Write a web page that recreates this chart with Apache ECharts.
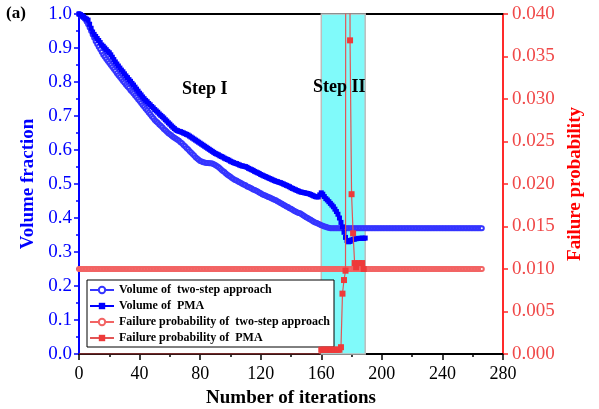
<!DOCTYPE html>
<html><head><meta charset="utf-8">
<script src="https://cdn.jsdelivr.net/npm/echarts@6/dist/echarts.min.js"></script>
<style>html,body{margin:0;padding:0;background:#fff}#c{width:599px;height:409px}</style>
</head><body><div id="c"></div>
<script>
// Volume fraction of two-step approach, index = iteration number (0..266)
const volTwoStep = [
1.000,0.997,0.993,0.990,0.985,0.978,0.970,0.960,0.950,0.940,
0.930,0.920,0.912,0.904,0.896,0.888,0.880,0.874,0.868,0.862,
0.856,0.850,0.844,0.838,0.832,0.826,0.820,0.815,0.809,0.803,
0.798,0.792,0.787,0.782,0.776,0.771,0.766,0.760,0.755,0.749,
0.744,0.738,0.732,0.727,0.721,0.716,0.710,0.705,0.699,0.694,
0.688,0.684,0.680,0.675,0.671,0.667,0.662,0.658,0.654,0.649,
0.646,0.643,0.639,0.636,0.633,0.630,0.627,0.623,0.620,0.615,
0.611,0.606,0.602,0.597,0.593,0.588,0.584,0.579,0.575,0.571,
0.568,0.566,0.564,0.563,0.562,0.562,0.561,0.561,0.560,0.558,
0.556,0.553,0.550,0.546,0.542,0.538,0.535,0.531,0.527,0.524,
0.521,0.518,0.515,0.512,0.510,0.507,0.505,0.503,0.500,0.498,
0.496,0.493,0.491,0.489,0.487,0.484,0.482,0.480,0.478,0.475,
0.473,0.470,0.468,0.466,0.464,0.462,0.460,0.458,0.456,0.454,
0.452,0.449,0.447,0.444,0.442,0.439,0.437,0.434,0.432,0.429,
0.427,0.424,0.421,0.419,0.417,0.415,0.414,0.411,0.408,0.405,
0.402,0.400,0.397,0.395,0.392,0.389,0.387,0.385,0.383,0.381,
0.379,0.377,0.375,0.374,0.372,0.371,0.370,0.370,0.370,0.370,
0.370,0.370,0.370,0.370,0.370,0.370,0.370,0.370,0.370,0.370,
0.370,0.370,0.370,0.370,0.370,0.370,0.370,0.370,0.370,0.370,
0.370,0.370,0.370,0.370,0.370,0.370,0.370,0.370,0.370,0.370,
0.370,0.370,0.370,0.370,0.370,0.370,0.370,0.370,0.370,0.370,
0.370,0.370,0.370,0.370,0.370,0.370,0.370,0.370,0.370,0.370,
0.370,0.370,0.370,0.370,0.370,0.370,0.370,0.370,0.370,0.370,
0.370,0.370,0.370,0.370,0.370,0.370,0.370,0.370,0.370,0.370,
0.370,0.370,0.370,0.370,0.370,0.370,0.370,0.370,0.370,0.370,
0.370,0.370,0.370,0.370,0.370,0.370,0.370,0.370,0.370,0.370,
0.370,0.370,0.370,0.370,0.370,0.370,0.370
];
// Volume fraction of PMA, index = iteration number (0..189)
const volPMA = [
1.000,0.998,0.995,0.992,0.988,0.985,0.982,0.970,0.958,0.947,
0.940,0.934,0.928,0.922,0.916,0.909,0.905,0.900,0.895,0.890,
0.886,0.880,0.873,0.866,0.859,0.853,0.847,0.841,0.835,0.830,
0.824,0.818,0.813,0.807,0.802,0.796,0.791,0.785,0.779,0.773,
0.767,0.762,0.756,0.751,0.746,0.742,0.737,0.733,0.728,0.724,
0.719,0.715,0.711,0.706,0.702,0.698,0.694,0.689,0.685,0.680,
0.676,0.671,0.667,0.663,0.659,0.657,0.655,0.654,0.652,0.650,
0.648,0.646,0.644,0.641,0.638,0.635,0.632,0.629,0.626,0.623,
0.620,0.617,0.614,0.611,0.608,0.605,0.602,0.599,0.596,0.593,
0.590,0.588,0.586,0.583,0.581,0.579,0.576,0.574,0.572,0.570,
0.567,0.565,0.563,0.561,0.560,0.558,0.556,0.554,0.553,0.552,
0.551,0.549,0.546,0.544,0.542,0.540,0.537,0.535,0.533,0.531,
0.528,0.526,0.524,0.522,0.520,0.518,0.516,0.514,0.512,0.510,
0.508,0.507,0.505,0.504,0.502,0.500,0.498,0.496,0.494,0.492,
0.489,0.487,0.485,0.483,0.481,0.479,0.477,0.476,0.475,0.474,
0.473,0.472,0.471,0.469,0.467,0.465,0.463,0.462,0.462,0.468,
0.474,0.470,0.463,0.457,0.453,0.448,0.443,0.438,0.433,0.426,
0.419,0.411,0.400,0.387,0.374,0.358,0.343,0.334,0.330,0.331,
0.335,0.337,0.338,0.339,0.340,0.340,0.340,0.341,0.340,0.341
];
// Failure probability of two-step approach, index = iteration number (0..266)
const failTwoStep = [
0.01,0.01,0.01,0.01,0.01,0.01,0.01,0.01,0.01,0.01,0.01,0.01,0.01,0.01,0.01,0.01,0.01,0.01,0.01,0.01,
0.01,0.01,0.01,0.01,0.01,0.01,0.01,0.01,0.01,0.01,0.01,0.01,0.01,0.01,0.01,0.01,0.01,0.01,0.01,0.01,
0.01,0.01,0.01,0.01,0.01,0.01,0.01,0.01,0.01,0.01,0.01,0.01,0.01,0.01,0.01,0.01,0.01,0.01,0.01,0.01,
0.01,0.01,0.01,0.01,0.01,0.01,0.01,0.01,0.01,0.01,0.01,0.01,0.01,0.01,0.01,0.01,0.01,0.01,0.01,0.01,
0.01,0.01,0.01,0.01,0.01,0.01,0.01,0.01,0.01,0.01,0.01,0.01,0.01,0.01,0.01,0.01,0.01,0.01,0.01,0.01,
0.01,0.01,0.01,0.01,0.01,0.01,0.01,0.01,0.01,0.01,0.01,0.01,0.01,0.01,0.01,0.01,0.01,0.01,0.01,0.01,
0.01,0.01,0.01,0.01,0.01,0.01,0.01,0.01,0.01,0.01,0.01,0.01,0.01,0.01,0.01,0.01,0.01,0.01,0.01,0.01,
0.01,0.01,0.01,0.01,0.01,0.01,0.01,0.01,0.01,0.01,0.01,0.01,0.01,0.01,0.01,0.01,0.01,0.01,0.01,0.01,
0.01,0.01,0.01,0.01,0.01,0.01,0.01,0.01,0.01,0.01,0.01,0.01,0.01,0.01,0.01,0.01,0.01,0.01,0.01,0.01,
0.01,0.01,0.01,0.01,0.01,0.01,0.01,0.01,0.01,0.01,0.01,0.01,0.01,0.01,0.01,0.01,0.01,0.01,0.01,0.01,
0.01,0.01,0.01,0.01,0.01,0.01,0.01,0.01,0.01,0.01,0.01,0.01,0.01,0.01,0.01,0.01,0.01,0.01,0.01,0.01,
0.01,0.01,0.01,0.01,0.01,0.01,0.01,0.01,0.01,0.01,0.01,0.01,0.01,0.01,0.01,0.01,0.01,0.01,0.01,0.01,
0.01,0.01,0.01,0.01,0.01,0.01,0.01,0.01,0.01,0.01,0.01,0.01,0.01,0.01,0.01,0.01,0.01,0.01,0.01,0.01,
0.01,0.01,0.01,0.01,0.01,0.01,0.01
];
// Failure probability of PMA (iteration, value)
const failPMAIter = [0,159,160,161,162,163,164,165,166,167,168,169,170,171,172,173,174,175,176,177,179,180,181,182,183,185,187,188];
const failPMA     = [0,0,0.0005,0.0005,0.0005,0.0005,0.0005,0.0005,0.0005,0.0005,0.0005,0.0005,0.0005,0.0005,0.0005,0.0008,0.0071,0.0087,0.0098,0.30,0.0369,0.0188,0.0142,0.0107,0.0102,0.0107,0.0107,0.0100];
// Step II shaded interval
const stepII = [160, 189];
const xTicks = {min:0, max:280, interval:40};
const seriesNames = ['Volume of  two-step approach','Volume of  PMA','Failure probability of  two-step approach','Failure probability of  PMA'];

const F = '"Liberation Serif", "Times New Roman", serif';
const BLUE = '#0000ff', RED = '#ff2a2a';

const chart = echarts.init(document.getElementById('c'), null, {renderer:'canvas'});
const option = {
  animation:false,
  backgroundColor:'#fff',
  grid:{left:79,right:96,top:14,bottom:55,containLabel:false,outerBoundsMode:'none'},
  title:{text:'(a)',left:1,top:0,textStyle:{fontFamily:F,fontWeight:'bold',fontSize:17,color:'#000'}},
  legend:{
    orient:'vertical',left:87,top:280,
    data:seriesNames,
    itemWidth:24,itemHeight:8,itemGap:4,
    padding:[4,4,3,2],
    borderColor:'#000',borderWidth:1,backgroundColor:'#fff',
    textStyle:{fontFamily:F,fontWeight:'bold',fontSize:12,color:'#000'}
  },
  xAxis:[{
    type:'value',min:xTicks.min,max:xTicks.max,interval:xTicks.interval,position:'bottom',
    axisLine:{onZero:false,lineStyle:{color:'#000',width:2}},
    axisTick:{show:true,length:6,lineStyle:{color:'#000',width:1.5}},
    minorTick:{show:true,splitNumber:2,length:3,lineStyle:{color:'#000',width:1.5}},
    axisLabel:{color:'#000',fontFamily:F,fontSize:18,margin:11},
    splitLine:{show:false},
    name:'Number of iterations',nameLocation:'middle',nameGap:35,
    nameTextStyle:{fontFamily:F,fontWeight:'bold',fontSize:19,color:'#000'}
  },{
    type:'value',min:xTicks.min,max:xTicks.max,position:'top',
    axisLine:{show:true,onZero:false,lineStyle:{color:'#000',width:2}},
    axisTick:{show:false},axisLabel:{show:false},splitLine:{show:false}
  }],
  yAxis:[{
    type:'value',min:0,max:1,interval:0.1,position:'left',
    axisLine:{show:true,onZero:false,lineStyle:{color:BLUE,width:2}},
    axisTick:{show:true,length:5,lineStyle:{color:BLUE,width:1.5}},
    minorTick:{show:true,splitNumber:2,length:3,lineStyle:{color:BLUE,width:1.5}},
    axisLabel:{color:BLUE,fontFamily:F,fontSize:19,margin:7,formatter:v=>v.toFixed(1)},
    splitLine:{show:false},
    name:'Volume fraction',nameLocation:'middle',nameGap:39,
    nameTextStyle:{fontFamily:F,fontWeight:'bold',fontSize:19,color:BLUE}
  },{
    type:'value',min:0,max:0.04,interval:0.005,position:'right',
    axisLine:{show:true,onZero:false,lineStyle:{color:RED,width:2}},
    axisTick:{show:true,length:5,lineStyle:{color:RED,width:1.5}},
    minorTick:{show:false},
    axisLabel:{color:'#f04848',fontFamily:F,fontSize:19,margin:9,formatter:v=>v.toFixed(3)},
    splitLine:{show:false},
    name:'Failure probability',nameLocation:'middle',nameGap:62,
    nameTextStyle:{fontFamily:F,fontWeight:'bold',fontSize:19,color:'#ff0000'}
  }],
  graphic:[
    {type:'text',left:182,top:80,z:100,style:{text:'Step I',font:'bold 18px '+F,fill:'#000'}},
    {type:'text',left:313,top:78,z:100,style:{text:'Step II',font:'bold 18px '+F,fill:'#000'}}
  ],
  series:[
    {
      name:seriesNames[0],type:'line',xAxisIndex:0,yAxisIndex:0,
      data:volTwoStep.map((v,i)=>[i,v]),
      symbol:'emptyCircle',symbolSize:4,
      itemStyle:{color:'#3535ff',borderWidth:1},
      lineStyle:{color:'#3535ff',width:1},
      z:3,
      markArea:{
        silent:true,
        itemStyle:{color:'#80fafa',borderColor:'#bdbdbd',borderWidth:1.5},
        data:[[{xAxis:stepII[0]},{xAxis:stepII[1]}]]
      }
    },
    {
      name:seriesNames[1],type:'line',xAxisIndex:0,yAxisIndex:0,
      data:volPMA.map((v,i)=>[i,v]),
      symbol:'rect',symbolSize:5,
      itemStyle:{color:BLUE},
      lineStyle:{color:BLUE,width:1.5},
      z:4
    },
    {
      name:seriesNames[2],type:'line',xAxisIndex:0,yAxisIndex:1,
      data:failTwoStep.map((v,i)=>[i,v]),
      symbol:'emptyCircle',symbolSize:4,
      itemStyle:{color:'#f26464',borderWidth:1},
      lineStyle:{color:'#f26464',width:1},
      z:5
    },
    {
      name:seriesNames[3],type:'line',xAxisIndex:0,yAxisIndex:1,
      data:failPMAIter.map((x,i)=>[x,failPMA[i]]),
      symbol:'rect',
      symbolSize:(val)=> val[0] < 160 ? 0 : 6,
      itemStyle:{color:'#ee3a3a'},
      lineStyle:{color:'#e25555',width:1.2},
      clip:true,
      z:6
    }
  ]
};
chart.setOption(option);
</script></body></html>
